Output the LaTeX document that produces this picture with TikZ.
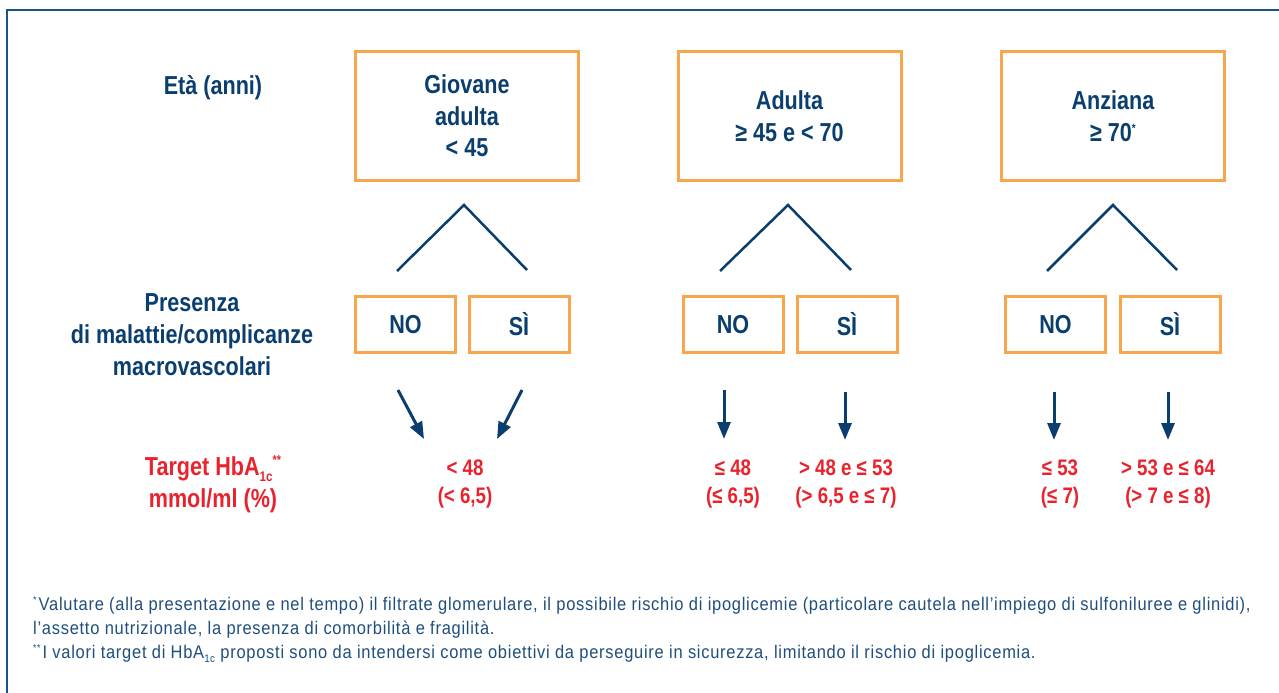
\documentclass[tikz,border=0pt]{standalone}
\usepackage{fontspec}
\setmainfont{Liberation Sans}[FakeStretch=0.83]
\newfontfamily\fnfont{Liberation Sans}[FakeStretch=0.9, LetterSpace=4]
\usetikzlibrary{arrows.meta}
\definecolor{tblue}{RGB}{10,62,110}
\definecolor{fblue}{RGB}{30,82,128}
\definecolor{fnblue}{RGB}{30,78,125}
\definecolor{torange}{RGB}{247,166,77}
\definecolor{tred}{RGB}{232,35,45}
\begin{document}
\begin{tikzpicture}[x=1pt,y=-1pt,
  bigfont/.style={font=\bfseries\fontsize{26}{31.5}\selectfont},
  agebox/.style={draw=torange, line width=3pt, minimum width=223pt, minimum height=129pt,
    inner sep=0pt, text=tblue, align=center, bigfont},
  ynbox/.style={draw=torange, line width=3pt, minimum width=100pt, minimum height=56pt,
    inner sep=0pt, text=tblue, bigfont},
  lbl/.style={text=tblue, align=center, inner sep=0pt, font=\bfseries\fontsize{26}{32}\selectfont},
  redlbl/.style={text=tred, align=center, inner sep=0pt, font=\bfseries\fontsize{26}{32}\selectfont},
  val/.style={text=tred, inner sep=0pt, font=\bfseries\fontsize{22.5}{22.5}\selectfont},
  tri/.style={draw=tblue, line width=2.5pt},
  arr/.style={draw=tblue, line width=3pt, -{Triangle[length=17pt,width=13pt]}},
  fn/.style={text=fnblue, anchor=west, inner sep=0pt, font=\fnfont\fontsize{18.3}{18.3}\selectfont}
]
\useasboundingbox (0,0) rectangle (1279,693);
% frame
\draw[fblue, line width=1.6pt] (1279,10) -- (7,10) -- (7,693);

% row labels
\node[lbl] (eta) at (213,88) {Età (anni)};
\node[lbl] (pres) at (192,335) {Presenza\\di malattie/complicanze\\macrovascolari};
\node[redlbl] (targ) at (213,484) {Target HbA\raisebox{-6pt}{\fontsize{14}{14}\selectfont 1c}\raisebox{11pt}{\fontsize{13}{13}\selectfont **}\\mmol/ml (\%)};

% age boxes
\node[agebox] (b1) at (467,116) {Giovane\\adulta\\< 45};
\node[agebox] (b2) at (789.5,116) {Adulta\\≥ 45 e < 70};
\node[agebox] (b3) at (1113,116) {Anziana\\≥ 70\raisebox{9pt}{\fontsize{12}{12}\selectfont *}};

% triangles
\coordinate (t1a) at (464,205); \coordinate (t1l) at (397,271); \coordinate (t1r) at (527,270);
\coordinate (t2a) at (788,205); \coordinate (t2l) at (720,271); \coordinate (t2r) at (851,270);
\coordinate (t3a) at (1113,205); \coordinate (t3l) at (1047,271); \coordinate (t3r) at (1177,270);
\draw[tri] (t1l) -- (t1a) -- (t1r);
\draw[tri] (t2l) -- (t2a) -- (t2r);
\draw[tri] (t3l) -- (t3a) -- (t3r);

% yes/no boxes
\node[ynbox] (n1) at (405.5,324.5) {NO};
\node[ynbox] (s1) at (519,324.5) {SÌ};
\node[ynbox] (n2) at (733,324.5) {NO};
\node[ynbox] (s2) at (847,324.5) {SÌ};
\node[ynbox] (n3) at (1055.5,324.5) {NO};
\node[ynbox] (s3) at (1170,324.5) {SÌ};

% values
\node[val] (v1a) at (465,468) {< 48};
\node[val] (v1b) at (465,498) {(< 6,5)};
\node[val] (v2a) at (733,468) {≤ 48};
\node[val] (v2b) at (733,498) {(≤ 6,5)};
\node[val] (v3a) at (846,468) {> 48 e ≤ 53};
\node[val] (v3b) at (846,498) {(> 6,5 e ≤ 7)};
\node[val] (v4a) at (1060,468) {≤ 53};
\node[val] (v4b) at (1060,498) {(≤ 7)};
\node[val] (v5a) at (1168,468) {> 53 e ≤ 64};
\node[val] (v5b) at (1168,498) {(> 7 e ≤ 8)};

% arrows
\coordinate (a1s) at (398,390); \coordinate (a1e) at (424,439);
\coordinate (a2s) at (522,390); \coordinate (a2e) at (497,439);
\coordinate (a3s) at (724,390); \coordinate (a3e) at (724,439);
\coordinate (a4s) at (845,392); \coordinate (a4e) at (845,440);
\coordinate (a5s) at (1054,392); \coordinate (a5e) at (1054,440);
\coordinate (a6s) at (1168,392); \coordinate (a6e) at (1168,440);
\draw[arr] (a1s) -- (a1e);
\draw[arr] (a2s) -- (a2e);
\draw[arr] (a3s) -- (a3e);
\draw[arr] (a4s) -- (a4e);
\draw[arr] (a5s) -- (a5e);
\draw[arr] (a6s) -- (a6e);

% footnotes
\node[fn] (f1) at (33,605) {\raisebox{7pt}{\fontsize{10}{10}\selectfont *}\kern2pt Valutare (alla presentazione e nel tempo) il filtrate glomerulare, il possibile rischio di ipoglicemie (particolare cautela nell’impiego di sulfoniluree e glinidi),};
\node[fn] (f2) at (33,630) {l’assetto nutrizionale, la presenza di comorbilità e fragilità.};
\node[fn] (f3) at (33,654) {\raisebox{7pt}{\fontsize{10}{10}\selectfont **}\kern2pt I valori target di HbA\raisebox{-4pt}{\fontsize{11}{11}\selectfont 1c} proposti sono da intendersi come obiettivi da perseguire in sicurezza, limitando il rischio di ipoglicemia.};
\end{tikzpicture}
\end{document}
